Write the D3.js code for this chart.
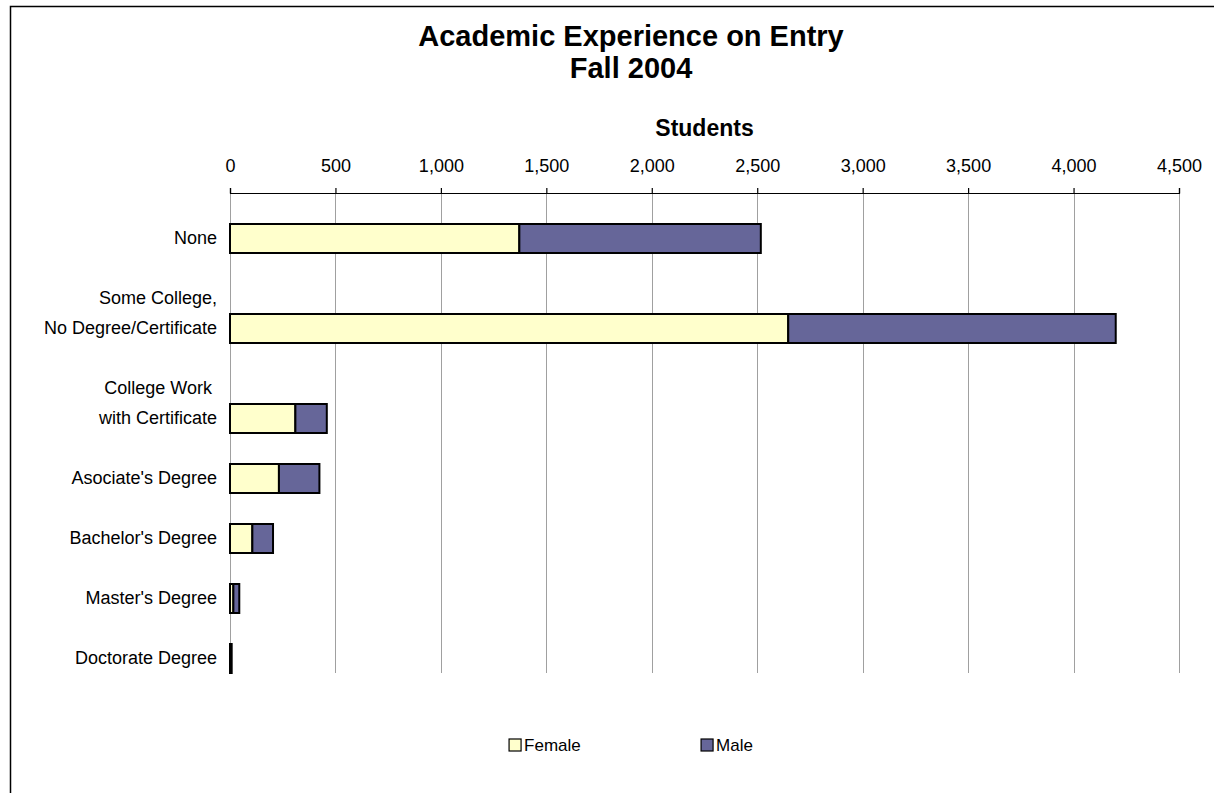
<!DOCTYPE html>
<html>
<head>
<meta charset="utf-8">
<script src="https://cdn.jsdelivr.net/npm/d3@7/dist/d3.min.js"></script>
<style>
  html, body { margin: 0; padding: 0; background: #fff; }
  svg text { font-family: "Liberation Sans", Arial, sans-serif; fill: #000; }
</style>
</head>
<body>
<svg id="chart" width="1214" height="793"></svg>
<script>
// Worksheet rows feeding the chart (blank rows kept as spacers, "\n" = wrapped label)
const rowLabels = [
  "", "None", "", "", "Some College,\nNo Degree/Certificate", "", "",
  "College Work\u00A0\nwith Certificate", "", "Asociate's Degree", "",
  "Bachelor's Degree", "", "Master's Degree", "", "Doctorate Degree"
];
const femaleCounts = [null, 1372, null, null, 2647, null, null, 310, null, 232, null, 106, null, 16, null, 3];
const maleCounts   = [null, 1145, null, null, 1553, null, null, 149, null, 192, null, 98, null, 28, null, 5];
const seriesNames = ["Female", "Male"];
const xTicks = [0, 500, 1000, 1500, 2000, 2500, 3000, 3500, 4000, 4500];

const colors = { Female: "#FFFFCC", Male: "#666699" };

const svg = d3.select("#chart");
const W = 1214, H = 793;

// chart-area frame (continues past the right and bottom edges)
svg.append("path")
  .attr("d", `M10.5,${H} V6.5 H${W}`)
  .attr("fill", "none").attr("stroke", "#000").attr("stroke-width", 1.5);

const plot = { left: 230, right: 1179, top: 193, bottom: 673 };
const chartCenter = 631;

const x = d3.scaleLinear().domain([0, 4500]).range([plot.left, plot.right]);
const y = d3.scaleBand().domain(d3.range(rowLabels.length))
  .range([plot.top, plot.bottom]).paddingInner(0).paddingOuter(0);

// titles
svg.append("text").attr("x", chartCenter).attr("y", 46).attr("text-anchor", "middle")
  .attr("font-size", 29).attr("font-weight", "bold").text("Academic Experience on Entry");
svg.append("text").attr("x", chartCenter).attr("y", 78).attr("text-anchor", "middle")
  .attr("font-size", 29).attr("font-weight", "bold").text("Fall 2004");
svg.append("text").attr("x", (plot.left + plot.right) / 2).attr("y", 136).attr("text-anchor", "middle")
  .attr("font-size", 23).attr("font-weight", "bold").text("Students");

// vertical gridlines
svg.append("g").selectAll("line").data(xTicks).join("line")
  .attr("x1", d => Math.round(x(d)) + 0.5).attr("x2", d => Math.round(x(d)) + 0.5)
  .attr("y1", plot.top).attr("y2", plot.bottom)
  .attr("stroke", "#a0a0a0").attr("stroke-width", 1);

// top value axis
const xAxis = d3.axisTop(x).tickValues(xTicks).tickFormat(d3.format(",")).tickSize(5).tickPadding(16);
const ax = svg.append("g").attr("transform", `translate(0,${plot.top})`).call(xAxis);
ax.select(".domain").attr("stroke", "#000").attr("stroke-width", 1.2);
ax.selectAll(".tick line").attr("stroke", "#000").attr("stroke-width", 1.2);
ax.selectAll(".tick text").attr("font-size", 18).attr("font-family", "Liberation Sans, Arial, sans-serif").attr("fill", "#000");

// stacked bars
const rows = rowLabels.map((label, i) => ({
  i, label, Female: femaleCounts[i], Male: maleCounts[i]
})).filter(r => r.Female !== null);

const stack = d3.stack().keys(seriesNames)(rows);
svg.append("g").selectAll("g").data(stack).join("g")
  .attr("fill", d => colors[d.key])
  .selectAll("rect").data(d => d).join("rect")
  .attr("x", d => x(d[0]))
  .attr("y", d => y(d.data.i) + 1)
  .attr("width", d => x(d[1]) - x(d[0]))
  .attr("height", y.bandwidth() - 1)
  .attr("stroke", "#000").attr("stroke-width", 2);

// category labels (right-aligned, wrapped lines stacked upward)
const lab = svg.append("g").attr("font-size", 18).attr("text-anchor", "end");
rows.forEach(r => {
  const lines = r.label.split("\n");
  const cy = y(r.i) + y.bandwidth() / 2;
  lines.forEach((ln, k) => {
    lab.append("text")
      .attr("x", 217)
      .attr("y", cy - (lines.length - 1 - k) * y.bandwidth())
      .attr("dy", "0.35em")
      .style("white-space", "pre")
      .text(ln);
  });
});

// legend, centred under the chart
const legend = svg.append("g");
const entryStep = 192;
seriesNames.forEach((name, k) => {
  const g = legend.append("g").attr("transform", `translate(${k * entryStep},0)`);
  g.append("rect").attr("width", 12).attr("height", 12)
    .attr("fill", colors[name]).attr("stroke", "#000").attr("stroke-width", 1.2);
  g.append("text").attr("x", 15).attr("y", 6).attr("dy", "0.35em")
    .attr("font-size", 17).text(name);
});
const lb = legend.node().getBBox();
legend.attr("transform", `translate(${chartCenter - lb.width / 2},739)`);
</script>
</body>
</html>
